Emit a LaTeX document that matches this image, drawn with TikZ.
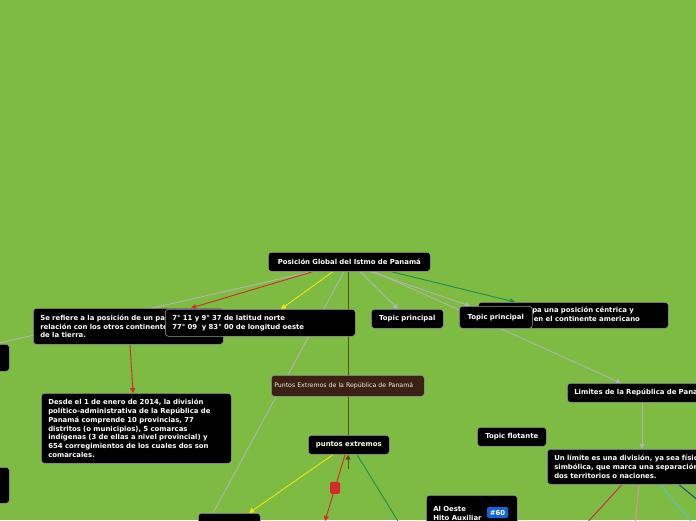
\documentclass[tikz,border=0pt]{standalone}
\usepackage{fontspec}
\setmainfont{DejaVu Sans}
\usetikzlibrary{arrows.meta,calc}
\definecolor{bg}{HTML}{7DBB42}
\definecolor{boxline}{HTML}{9A9A9A}
\definecolor{lgrey}{HTML}{B4B4B4}
\definecolor{lred}{HTML}{D42A2A}
\definecolor{lyellow}{HTML}{F2E411}
\definecolor{lgreen}{HTML}{1E8E4E}
\definecolor{lolive}{HTML}{55501C}
\definecolor{brownbox}{HTML}{3B2014}
\definecolor{lcrimson}{HTML}{D81E4A}
\definecolor{lpink}{HTML}{E98BB0}
\definecolor{lsky}{HTML}{55C0E0}
\definecolor{lnavy}{HTML}{1F3A93}
\definecolor{badgeblue}{HTML}{1565D8}
\pgfdeclarelayer{bgl}
\pgfdeclarelayer{edges}
\pgfsetlayers{bgl,edges,main}
\tikzset{
  box/.style={draw=boxline, fill=black, rounded corners=3pt, line width=0.6pt,
    anchor=north west, text=white, font=\fontsize{6.9}{8.7}\selectfont\bfseries,
    inner xsep=7pt, inner ysep=0pt, align=left},
  brownnode/.style={box, fill=brownbox, text={white!88!brown},
    font=\fontsize{6.2}{8.7}\selectfont, inner xsep=3pt},
  badge/.style={fill=badgeblue, rounded corners=2pt, text=white,
    font=\fontsize{6.9}{7}\selectfont\bfseries, inner sep=0pt,
    minimum width=21pt, minimum height=11pt},
  conn/.style={line width=0.9pt},
  tip/.style={-{Triangle[width=5pt,length=5pt]}},
}
\begin{document}
\begin{tikzpicture}[x=1pt,y=-1pt]
\begin{pgfonlayer}{bgl}
\fill[bg] (0,0) rectangle (696,520);
\end{pgfonlayer}
\useasboundingbox (0,0) rectangle (696,520);

% nodes
\node[box, text width=148pt, minimum height=19pt, align=center] (center) at (268,252) {Posición Global del Istmo de Panamá};
\node[box, text width=176pt, minimum height=36pt] (n2) at (33,308) {Se refiere a la posición de un país en\\relación con los otros continentes\\de la tierra.};
\node[box, text width=176pt, minimum height=27pt] (n3) at (165,309) {7° 11 y 9° 37 de latitud norte\\77° 09\ \ y 83° 00 de longitud oeste};
\node[box, text width=176pt, minimum height=26pt] (n5) at (478,302) {Panamá ocupa una posición céntrica y\\privilegiada en el continente americano};
\node[box, text width=58pt, minimum height=19pt, align=center] (tp1) at (371,309) {Topic principal};
\node[box, text width=59pt, minimum height=22pt, align=center] (tp2) at (459,306) {Topic principal};
\node[brownnode, text width=147pt, minimum height=21pt] (n6) at (271,375) {Puntos Extremos de la República de Panamá};
\node[box, text width=136pt, minimum height=19pt] (lim) at (567,383) {Limites de la República de Panamá};
\node[box, text width=55pt, minimum height=19pt, align=center] (tf) at (477,427) {Topic flotante};
\node[box, text width=176pt, minimum height=35pt] (n9) at (547,449) {Un límite es una división, ya sea física o\\simbólica, que marca una separación entre\\dos territorios o naciones.};
\node[box, text width=67pt, minimum height=19pt, align=center] (pe) at (308,435) {puntos extremos};
\node[box, text width=176pt, minimum height=70pt] (n11) at (41,393) {Desde el 1 de enero de 2014, la división\\político-administrativa de la República de\\Panamá comprende 10 provincias, 77\\distritos (o municipios), 5 comarcas\\indígenas (3 de ellas a nivel provincial) y\\654 corregimientos de los cuales dos son\\comarcales.};
\node[box, text width=77pt, inner ysep=4pt, minimum height=36pt, anchor=north west] (al) at (426,495) {Al Oeste\\Hito Auxiliar};
\node[badge] (b60) at (497.5,512.5) {\#60};
\node[box, text width=15pt, minimum height=27pt] (l13) at (-20,344) {};
\node[box, text width=15pt, minimum height=36pt] (l14) at (-20,467) {};
\node[box, text width=48pt, minimum height=20pt] (b15) at (198,513) {};

% connectors
\begin{pgfonlayer}{edges}
\draw[conn, lgrey] ([xshift=44pt]center.south west) -- (l13.north);
\draw[conn, lred, tip] ([xshift=45pt]center.south west) -- ([xshift=158pt]n2.north west);
\draw[conn, lyellow, tip] ([xshift=65pt]center.south west) -- ([xshift=116pt]n3.north west);
\draw[conn, lgrey] ([xshift=76pt]center.south west) -- ([xshift=15pt]b15.north west);
\draw[conn, lolive] ([xshift=80pt]center.south west) -- ([xshift=40pt]pe.north west);
\draw[conn, lgrey, tip] ([xshift=92pt]center.south west) -- ([xshift=27pt]tp1.north west);
\draw[conn, lgrey, tip] ([xshift=102pt]center.south west) -- ([xshift=11pt]tp2.north west);
\draw[conn, lgrey, tip] ([xshift=106pt]center.south west) -- ([xshift=54pt]lim.north west);
\draw[conn, lgreen, tip] ([xshift=123pt]center.south west) -- ([xshift=37pt]n5.north west);
\draw[conn, lred, tip] ([xshift=97pt]n2.south west) -- ([xshift=92pt]n11.north west);
\draw[conn, lgrey, tip] ([xshift=75pt]lim.south west) -- ([xshift=95pt]n9.north west);
\draw[conn, lyellow, tip] ([xshift=25pt]pe.south west) -- ([xshift=51pt]b15.north west);
\coordinate (redend) at (325,521);
\draw[conn, lred, tip] ([xshift=37pt]pe.south west) -- node[pos=0.5, fill=lred, rounded corners=1.5pt, minimum width=10pt, minimum height=12pt, inner sep=0pt] (sq) {} (redend);
\coordinate (greenend) at (401,526);
\draw[conn, lgreen] ([xshift=49pt]pe.south west) -- (greenend);
\coordinate (upstart) at (348,469);
\draw[conn, lolive, tip] (upstart) -- ([xshift=40pt]pe.south west);
\coordinate (c1) at (585,525);
\coordinate (c2) at (635,525);
\coordinate (c3) at (695,526);
\coordinate (c4) at (700,502);
\draw[conn, lcrimson] ([xshift=75pt]n9.south west) -- (c1);
\draw[conn, lpink] ([xshift=92pt]n9.south west) -- (c2);
\draw[conn, lsky] ([xshift=113pt]n9.south west) -- (c3);
\draw[conn, lnavy] ([xshift=132pt]n9.south west) -- (c4);
\end{pgfonlayer}
\end{tikzpicture}
\end{document}
